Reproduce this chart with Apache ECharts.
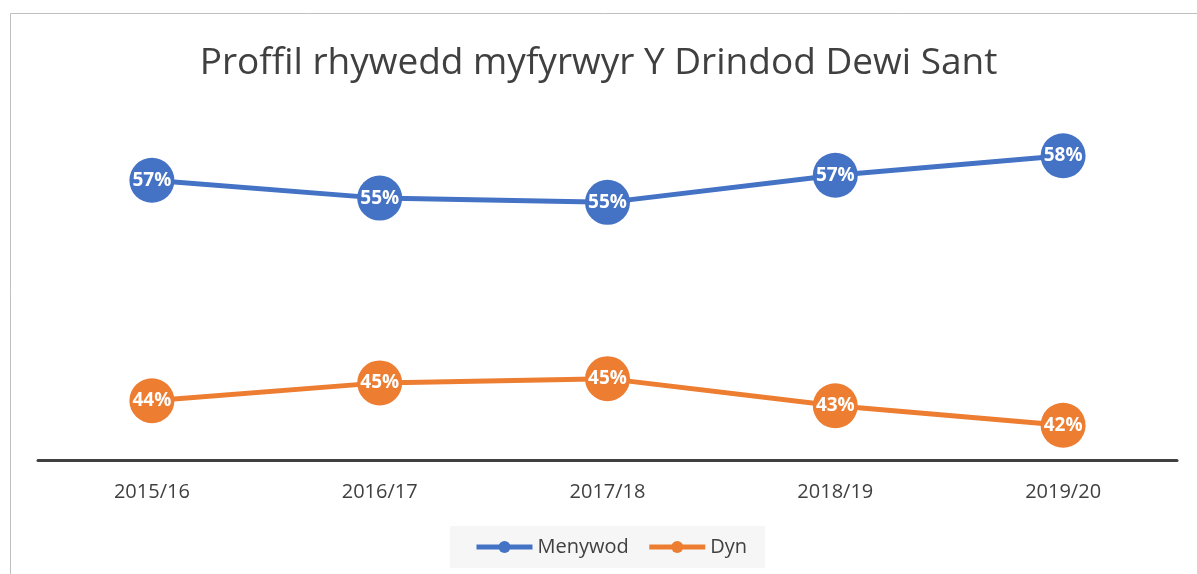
<!DOCTYPE html>
<html>
<head>
<meta charset="utf-8">
<script src="https://cdn.jsdelivr.net/npm/echarts@6/dist/echarts.min.js"></script>
<style>
  html, body { margin: 0; padding: 0; background: #fff; }
  #chart { width: 1197px; height: 574px; }
</style>
</head>
<body>
<div id="chart"></div>
<script>
// data
var years = ['2015/16', '2016/17', '2017/18', '2018/19', '2019/20'];
var menywod = [56.5, 55.45, 55.2, 56.8, 57.95];
var dyn = [43.5, 44.55, 44.8, 43.2, 42.05];

var chart = echarts.init(document.getElementById('chart'));

function pctLabel() {
  return {
    show: true,
    position: 'inside',
    color: '#fff',
    fontWeight: 'bold',
    fontSize: 19,
    fontFamily: 'Open Sans',
    formatter: function (p) { return Math.round(p.value) + '%'; }
  };
}

chart.setOption({
  animation: false,
  title: {
    text: 'Proffil rhywedd myfyrwyr Y Drindod Dewi Sant',
    left: 'center',
    top: 40,
    textStyle: {
      fontFamily: 'Open Sans',
      fontWeight: 'normal',
      fontSize: 37,
      color: '#404040'
    }
  },
  graphic: [{
    type: 'polyline',
    shape: { points: [[10.5, 600], [10.5, 13.5], [1200, 13.5]] },
    style: { stroke: '#bfbfbf', lineWidth: 1, fill: null },
    silent: true
  }],
  grid: {
    left: 38,
    right: 20,
    top: 121,
    bottom: 114
  },
  legend: {
    bottom: 6,
    left: 450,
    backgroundColor: '#f6f6f6',
    padding: [11, 18, 11, 24],
    itemWidth: 56,
    itemHeight: 15,
    itemGap: 18,
    lineStyle: { width: 5 },
    textStyle: { fontFamily: 'Open Sans', fontSize: 20, color: '#404040' },
    data: ['Menywod', 'Dyn']
  },
  xAxis: {
    type: 'category',
    data: years,
    boundaryGap: true,
    axisTick: { show: false },
    axisLine: { lineStyle: { color: '#404040', width: 3 } },
    axisLabel: {
      margin: 22,
      fontFamily: 'Open Sans',
      fontSize: 20,
      color: '#404040'
    }
  },
  yAxis: {
    type: 'value',
    min: 40,
    max: 60,
    show: false,
    splitLine: { show: false }
  },
  series: [{
    name: 'Menywod',
    type: 'line',
    data: menywod,
    symbol: 'circle',
    symbolSize: 45,
    itemStyle: { color: '#4472c4' },
    lineStyle: { width: 5, color: '#4472c4' },
    label: pctLabel()
  }, {
    name: 'Dyn',
    type: 'line',
    data: dyn,
    symbol: 'circle',
    symbolSize: 45,
    itemStyle: { color: '#ed7d31' },
    lineStyle: { width: 5, color: '#ed7d31' },
    label: pctLabel()
  }]
});
</script>
</body>
</html>
